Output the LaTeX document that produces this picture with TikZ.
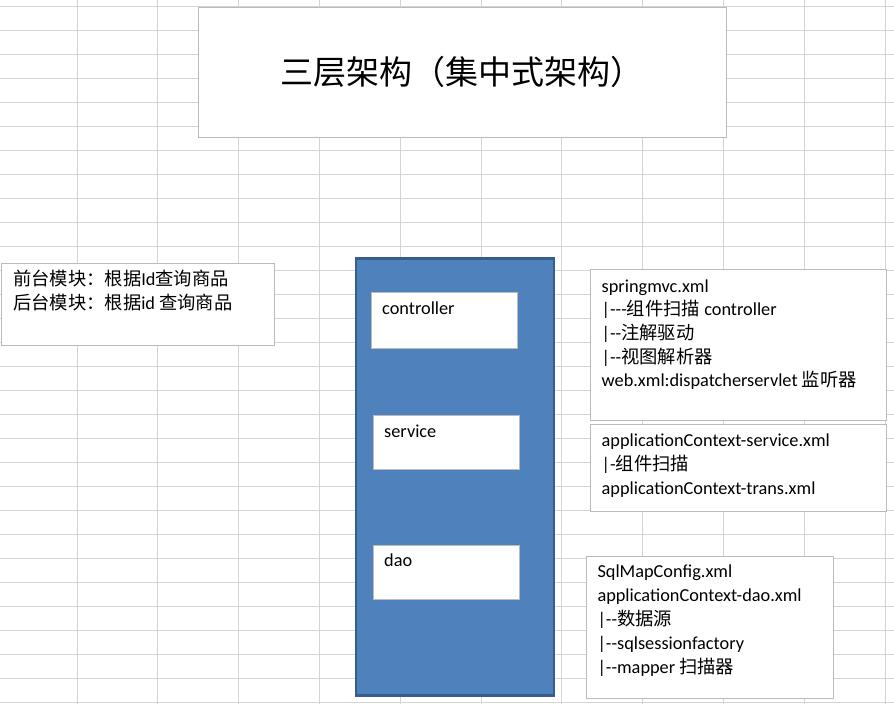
\documentclass[tikz,border=0pt]{standalone}
\usepackage{fontspec}
\setmainfont{Carlito}[Ligatures=TeXOff]
\newfontfamily\cjk{Noto Sans CJK SC}
\definecolor{gridgray}{HTML}{D4D4D4}
\definecolor{boxgray}{HTML}{BBBBBB}
\definecolor{layerblue}{HTML}{4F81BD}
\definecolor{layeredge}{HTML}{385D8A}
\begin{document}
\begin{tikzpicture}[x=1pt,y=-1pt,
  gridline/.style={draw=gridgray,line width=1pt},
  cellbox/.style={draw=boxgray,fill=white,line width=1pt,anchor=north west,inner sep=0pt},
  layerbox/.style={draw=layeredge,fill=layerblue,line width=2.6pt,anchor=north west,inner sep=0pt},
  txt/.style={anchor=base west,inner sep=0pt,font=\fontsize{18.3}{24}\selectfont},
  titletxt/.style={inner sep=0pt,font=\cjk\fontsize{33}{40}\selectfont}]
\useasboundingbox (0,0) rectangle (894,704);
\fill[white] (0,0) rectangle (894,704);
% spreadsheet grid
\foreach \k in {0,...,10}{\draw[gridline] ({77+80.8*\k},0) -- ({77+80.8*\k},704);}
\foreach \k in {0,...,29}{\draw[gridline] (0,{6.3+24*\k}) -- (894,{6.3+24*\k});}
% title
\node[cellbox,minimum width=528,minimum height=130] (title) at (197.5,6.5) {};
\node[titletxt] (titletext) at (title.center) {三层架构（集中式架构）};
% left box
\node[cellbox,minimum width=273,minimum height=82] (left) at (0.5,262.5) {};
\node[txt] (l1) at (13,285) {{\cjk 前台模块：根据}Id{\cjk 查询商品}};
\node[txt] (l2) at (13,309) {{\cjk 后台模块：根据}id {\cjk 查询商品}};
% layers
\node[layerbox,minimum width=198,minimum height=437] (layer) at (354.5,257) {};
\node[cellbox,minimum width=146,minimum height=56] (ctrl) at (370.5,291.5) {};
\node[txt] (ctrltext) at (382,314) {controller};
\node[cellbox,minimum width=146,minimum height=54] (svc) at (372.5,415) {};
\node[txt] (svctext) at (384,437.5) {service};
\node[cellbox,minimum width=146,minimum height=54] (dao) at (372.5,544.5) {};
\node[txt] (daotext) at (384,566.5) {dao};
% right box 1
\node[cellbox,minimum width=296,minimum height=151.5] (r1) at (589.5,268.5) {};
\node[txt] (r1a) at (601.5,292) {springmvc.xml};
\node[txt] (r1b) at (601.5,315.7) {|---{\cjk 组件扫描} controller};
\node[txt] (r1c) at (601.5,339.4) {|--{\cjk 注解驱动}};
\node[txt] (r1d) at (601.5,363.1) {|--{\cjk 视图解析器}};
\node[txt] (r1e) at (601.5,386.8) {web.xml:dispatcherservlet {\cjk 监听器}};
% right box 2
\node[cellbox,minimum width=296,minimum height=87] (r2) at (589.5,424) {};
\node[txt] (r2a) at (601.5,446.7) {applicationContext-service.xml};
\node[txt] (r2b) at (601.5,470.5) {|-{\cjk 组件扫描}};
\node[txt] (r2c) at (601.5,494) {applicationContext-trans.xml};
% right box 3
\node[cellbox,minimum width=246.5,minimum height=142] (r3) at (586,555.5) {};
\node[txt] (r3a) at (597.3,577.3) {SqlMapConfig.xml};
\node[txt] (r3b) at (597.3,601.3) {applicationContext-dao.xml};
\node[txt] (r3c) at (597.3,625.3) {|--{\cjk 数据源}};
\node[txt] (r3d) at (597.3,649.3) {|--sqlsessionfactory};
\node[txt] (r3e) at (597.3,673.3) {|--mapper {\cjk 扫描器}};
\end{tikzpicture}
\end{document}
